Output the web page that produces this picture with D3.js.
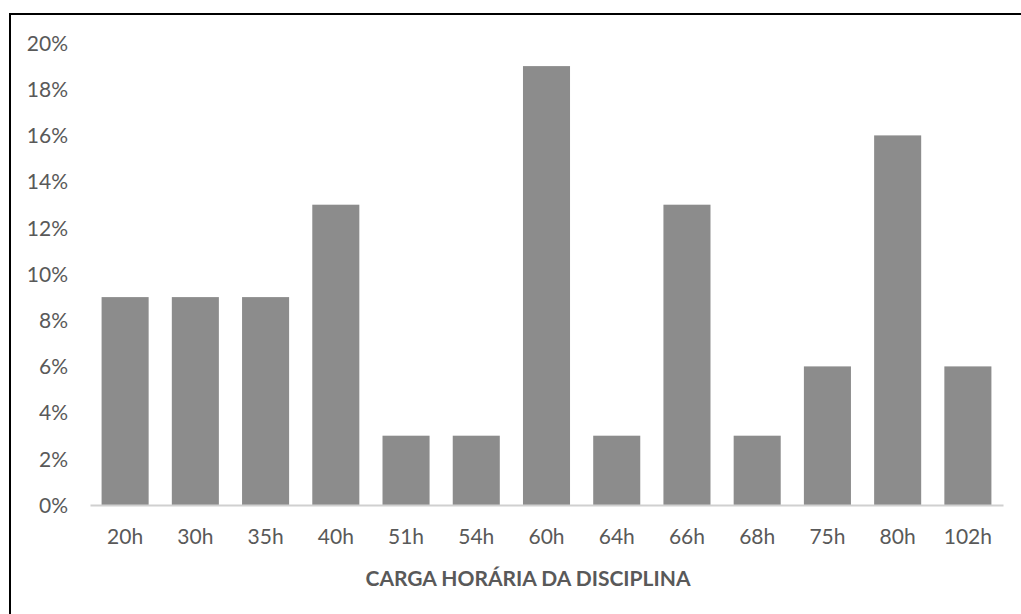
<!DOCTYPE html>
<html>
<head>
<meta charset="utf-8">
<script src="https://cdn.jsdelivr.net/npm/d3@7"></script>
<style>
  html, body { margin: 0; padding: 0; background: #ffffff; }
  svg { display: block; }
  text { font-family: Lato, "Open Sans", sans-serif; fill: #595959; }
</style>
</head>
<body>
<svg id="chart" width="1021" height="614"></svg>
<script>
// Share of disciplines by workload (hours)
const categories = ["20h", "30h", "35h", "40h", "51h", "54h", "60h", "64h", "66h", "68h", "75h", "80h", "102h"];
const shares = [9, 9, 9, 13, 3, 3, 19, 3, 13, 3, 6, 16, 6];
const yTicks = [0, 2, 4, 6, 8, 10, 12, 14, 16, 18, 20];
const axisTitle = "CARGA HORÁRIA DA DISCIPLINA";

const svg = d3.select("#chart");

const plot = { left: 90, right: 1003, top: 43, bottom: 505 };

const x = d3.scaleBand()
  .domain(categories)
  .range([plot.left, plot.right])
  .paddingInner(0.33)
  .paddingOuter(0.165);

const y = d3.scaleLinear()
  .domain([0, 20])
  .range([plot.bottom, plot.top]);

// Frame (top and left edges visible)
svg.append("line").attr("x1", 9).attr("x2", 1021).attr("y1", 14).attr("y2", 14)
  .attr("stroke", "#000").attr("stroke-width", 2);
svg.append("line").attr("x1", 10).attr("x2", 10).attr("y1", 13).attr("y2", 614)
  .attr("stroke", "#000").attr("stroke-width", 2);

// Bars
svg.append("g").selectAll("rect")
  .data(categories.map((c, i) => ({ c, v: shares[i] })))
  .join("rect")
  .attr("x", d => x(d.c))
  .attr("width", x.bandwidth())
  .attr("y", d => y(d.v))
  .attr("height", d => y(0) - y(d.v))
  .attr("fill", "#8c8c8c");

// Category axis
const xAxis = svg.append("g")
  .attr("transform", `translate(0,${plot.bottom})`)
  .call(d3.axisBottom(x).tickSize(0).tickPadding(24));
xAxis.select(".domain").attr("stroke", "#d0d0d0").attr("stroke-width", 2);
xAxis.selectAll("text")
  .style("font-family", "Lato, 'Open Sans', sans-serif")
  .style("font-size", "21px")
  .attr("fill", "#595959")
  .attr("dy", "0.71em");

// Value axis (labels only)
const yAxis = svg.append("g")
  .attr("transform", `translate(${plot.left - 22},0)`)
  .call(d3.axisLeft(y).tickValues(yTicks).tickSize(0).tickPadding(0)
    .tickFormat(d => d + "%"));
yAxis.select(".domain").remove();
yAxis.selectAll("text")
  .style("font-family", "Lato, 'Open Sans', sans-serif")
  .style("font-size", "21px")
  .attr("fill", "#595959")
  .attr("dy", "0.35em");

// Axis title
svg.append("text")
  .attr("x", 528)
  .attr("y", 586)
  .attr("text-anchor", "middle")
  .style("font-size", "21px")
  .style("font-weight", "bold")
  .text(axisTitle);
</script>
</body>
</html>
